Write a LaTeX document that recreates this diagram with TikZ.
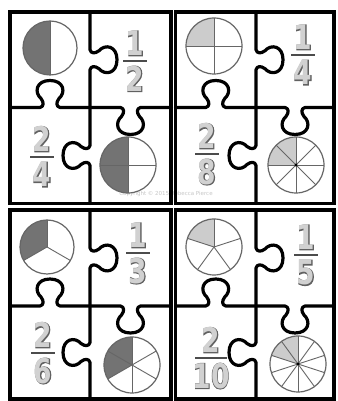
\documentclass[tikz,border=0pt]{standalone}
\usepackage{fontspec}
\usepackage{graphicx}
\setmainfont{DejaVu Sans}
\newfontfamily\dout{DejaVu Sans Bold}[RawFeature={embolden=4}]
\newfontfamily\din{DejaVu Sans Bold}
\definecolor{darkfill}{gray}{0.45}
\definecolor{lightfill}{gray}{0.80}
\definecolor{digout}{gray}{0.38}
\definecolor{digin}{gray}{0.82}
\tikzset{
  puz/.style={line width=3.2pt, line cap=round, line join=round},
  frm/.style={line width=3.8pt, line join=miter},
  spoke/.style={draw=black!60, line width=0.9pt},
  rim/.style={draw=black!60, line width=1.2pt},
  fbar/.style={draw=black!70, line width=2.6pt},
  dgo/.style={font=\dout\fontsize{34}{34}\selectfont, text=digout, inner sep=0pt},
  dgi/.style={font=\din\fontsize{34}{34}\selectfont, text=digin, inner sep=0pt},
}
\newcommand\knobline[4]{%
  \begin{scope}[shift={(#1,#2)},rotate=#3]
    \draw[puz] (-#4,0) -- (-10,0) .. controls (-6,1) and (-6,5) .. (-9,9)
      .. controls (-16,15) and (-14,27) .. (0,27)
      .. controls (14,27) and (16,15) .. (9,9)
      .. controls (6,5) and (6,1) .. (10,0) -- (#4,0);
  \end{scope}}
\newcommand\puzblock[6]{% L R B T cx cy
  \draw[frm] (#1,#3) rectangle (#2,#4);
  \pgfmathsetmacro\pzm{(#4+#6)/2}\pgfmathsetmacro\pzh{(#4-#6)/2}%
  \knobline{#5}{\pzm}{-90}{\pzh}%
  \pgfmathsetmacro\pzm{(#3+#6)/2}\pgfmathsetmacro\pzh{(#6-#3)/2}%
  \knobline{#5}{\pzm}{90}{\pzh}%
  \pgfmathsetmacro\pzm{(#1+#5)/2}\pgfmathsetmacro\pzh{(#5-#1)/2}%
  \knobline{\pzm}{#6}{0}{\pzh}%
  \pgfmathsetmacro\pzm{(#2+#5)/2}\pgfmathsetmacro\pzh{(#2-#5)/2}%
  \knobline{\pzm}{#6}{180}{\pzh}%
}
\newcommand\pzpie[7]{% x Y r n k fill dot
  \fill[#6] (#1,#2) -- ++(90:#3) arc[start angle=90, delta angle={360*#5/#4}, radius=#3] -- cycle;
  \foreach \i in {1,...,#4} \draw[spoke] (#1,#2) -- ++({90+(\i-1)*360/#4}:#3);
  \draw[rim] (#1,#2) circle[radius=#3];
  \ifnum#7=1 \fill (#1,#2) circle[radius=1.6];\fi
}
\newcommand\fracpz[6]{% name x Ybar num den barhalf
  \draw[fbar] (#2-#6,#3) -- (#2+#6,#3);
  \node[dgo,anchor=south] (#1no) at (#2,#3+5) {\scalebox{0.78}[1]{#4}};
  \node[dgi,anchor=south] (#1ni) at (#1no.south) {\scalebox{0.78}[1]{#4}};
  \node[dgo,anchor=north] (#1do) at (#2,#3-5) {\scalebox{0.78}[1]{#5}};
  \node[dgi,anchor=north] (#1di) at (#1do.north) {\scalebox{0.78}[1]{#5}};
}
\begin{document}
\begin{tikzpicture}[x=1pt,y=1pt]
  \useasboundingbox (0,0) rectangle (337,401);
  \fill[white] (0,0) rectangle (337,401);
  \node[font=\fontsize{5.5}{5.5}\selectfont, text=black!22] (wm) at (166,207.5) {Copyright © 2015 Rebecca Pierce};
  % puzzle blocks
  \puzblock{10}{171}{197.5}{389}{90}{293.5}
  \puzblock{175.5}{334}{197.5}{389}{256}{293.5}
  \puzblock{10}{171}{2}{191}{90}{95}
  \puzblock{175.5}{334}{2}{191}{256}{95}
  % circles
  \pzpie{50}{353}{27}{2}{1}{darkfill}{0}
  \pzpie{128}{236}{28}{4}{2}{darkfill}{0}
  \pzpie{214}{355}{28}{4}{1}{lightfill}{0}
  \pzpie{296}{236}{28}{8}{2}{lightfill}{1}
  \pzpie{47}{154}{27}{3}{1}{darkfill}{0}
  \pzpie{132}{36}{28}{6}{2}{darkfill}{0}
  \pzpie{214}{154}{28}{5}{1}{lightfill}{0}
  \pzpie{298}{37}{28}{10}{2}{lightfill}{1}
  % fractions
  \fracpz{a}{135}{340}{1}{2}{12}
  \fracpz{b}{42}{244}{2}{4}{12}
  \fracpz{c}{303}{346}{1}{4}{12}
  \fracpz{d}{207}{247}{2}{8}{12}
  \fracpz{e}{138}{148}{1}{3}{12}
  \fracpz{f}{43}{48}{2}{6}{12}
  \fracpz{g}{306}{146}{1}{5}{12}
  \fracpz{h}{211}{43}{2}{10}{16}
\end{tikzpicture}
\end{document}
